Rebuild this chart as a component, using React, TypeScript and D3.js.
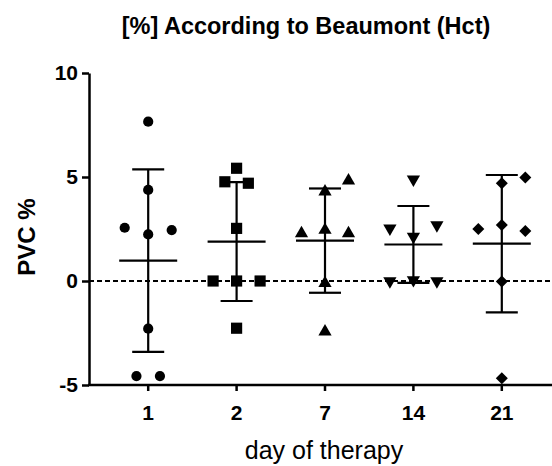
import React, { useRef, useEffect } from "react";
import * as d3 from "d3";

// days on the x axis
const days = ["1", "2", "7", "14", "21"];

// PVC % per patient
const day1 = [7.66, 4.38, 2.56, 2.24, 2.45, -2.29, -4.57, -4.57];
const day2 = [5.42, 4.77, 4.7, 2.53, 0, 0, 0, -2.27];
const day7 = [4.82, 4.29, 2.29, 2.45, 2.29, -0.11, -2.44];
const day14 = [4.89, 2.53, 2.13, 2.69, 0, 0.05, 0];
const day21 = [4.97, 4.7, 2.5, 2.69, 2.4, -0.03, -4.68];

// side-by-side slot of each point (scatter dot plot)
const slots1 = [0, 0, -2, 0, 2, 0, -1, 1];
const slots2 = [0, -1, 1, 0, -2, 0, 2, 0];
const slots7 = [2, 0, -2, 0, 2, 0, 0];
const slots14 = [0, -2, 0, 2, -2, 0, 2];
const slots21 = [2, 0, -2, 0, 2, 0, 0];

const yTicks = [-5, 0, 5, 10];

const series = [day1, day2, day7, day14, day21];
const slots = [slots1, slots2, slots7, slots14, slots21];

const App: React.FC = () => {
  const svgRef = useRef<SVGSVGElement | null>(null);

  useEffect(() => {
    const svg = d3.select(svgRef.current);
    const width = 552;
    const height = 466;
    const font = "'Liberation Sans', Arial, sans-serif";

    svg.selectAll("*").remove();

    const x = d3.scaleBand().domain(days).range([104, 546]).padding(0);
    const y = d3.scaleLinear().domain([-5, 10]).range([385, 73]);
    const cx = (d: string) => (x(d) ?? 0) + x.bandwidth() / 2;
    const slotW = 11.75;

    // zero reference line
    svg
      .append("line")
      .attr("x1", 89)
      .attr("x2", width)
      .attr("y1", y(0))
      .attr("y2", y(0))
      .attr("stroke", "#000")
      .attr("stroke-width", 2)
      .attr("stroke-dasharray", "5,3");

    const symbols = [
      d3.symbol(d3.symbolCircle, 82),
      d3.symbol(d3.symbolSquare, 125),
      d3.symbol(d3.symbolTriangle, 76),
      d3.symbol(d3.symbolTriangle, 76),
      d3.symbol(d3.symbolSquare, 72),
    ];
    const rotations = [0, 0, 0, 180, 45];

    days.forEach((day, i) => {
      const vals = series[i];
      const m = d3.mean(vals) ?? 0;
      const sd = d3.deviation(vals) ?? 0;
      const c = cx(day);
      const g = svg.append("g");

      // points
      g.selectAll("path")
        .data(vals)
        .join("path")
        .attr("d", symbols[i]() as string)
        .attr(
          "transform",
          (v, j) =>
            `translate(${c + slots[i][j] * slotW},${y(v)}) rotate(${rotations[i]})`
        )
        .attr("fill", "#000");

      // mean ± SD
      const eb = svg.append("g").attr("stroke", "#000").attr("stroke-width", 2.2);
      eb.append("line")
        .attr("x1", c).attr("x2", c)
        .attr("y1", y(m + sd)).attr("y2", y(m - sd));
      eb.append("line")
        .attr("x1", c - 29).attr("x2", c + 29)
        .attr("y1", y(m)).attr("y2", y(m));
      [m + sd, m - sd].forEach((v) => {
        eb.append("line")
          .attr("x1", c - 16).attr("x2", c + 16)
          .attr("y1", y(v)).attr("y2", y(v));
      });
    });

    // y axis
    const yAxis = svg
      .append("g")
      .attr("transform", `translate(89,0)`)
      .call(
        d3
          .axisLeft(y)
          .tickValues(yTicks)
          .tickFormat((d) => String(d))
          .tickSize(7)
          .tickSizeOuter(0)
          .tickPadding(4)
      );
    yAxis.select(".domain").attr("stroke-width", 2.5);
    yAxis.selectAll(".tick line").attr("stroke-width", 2.5);
    yAxis
      .selectAll(".tick text")
      .attr("font-family", font)
      .attr("font-weight", "bold")
      .attr("font-size", 21)
      .attr("fill", "#000");

    // x axis
    svg
      .append("line")
      .attr("x1", 88)
      .attr("x2", width)
      .attr("y1", 385)
      .attr("y2", 385)
      .attr("stroke", "#000")
      .attr("stroke-width", 2.5);
    const xAxis = svg
      .append("g")
      .attr("transform", `translate(0,385)`)
      .call(d3.axisBottom(x).tickSize(6).tickSizeOuter(0).tickPadding(14));
    xAxis.select(".domain").remove();
    xAxis.selectAll(".tick line").attr("stroke-width", 2.5);
    xAxis
      .selectAll(".tick text")
      .attr("font-family", font)
      .attr("font-weight", "bold")
      .attr("font-size", 21)
      .attr("fill", "#000");

    // titles
    svg
      .append("text")
      .attr("x", 306)
      .attr("y", 34)
      .attr("text-anchor", "middle")
      .attr("font-family", font)
      .attr("font-weight", "bold")
      .attr("font-size", 23.5)
      .text("[%] According to Beaumont (Hct)");

    svg
      .append("text")
      .attr("transform", `translate(35,237) rotate(-90)`)
      .attr("text-anchor", "middle")
      .attr("font-family", font)
      .attr("font-weight", "bold")
      .attr("font-size", 24)
      .text("PVC %");

    svg
      .append("text")
      .attr("x", 324)
      .attr("y", 459)
      .attr("text-anchor", "middle")
      .attr("font-family", font)
      .attr("font-size", 25)
      .text("day of therapy");

    svg.attr("width", width).attr("height", height);
  }, []);

  return (
    <div>
      <svg
        ref={svgRef}
        width="552"
        height="466"
        style={{ position: "absolute", left: 0, top: 0, background: "#fff" }}
      />
    </div>
  );
};

export default App;
